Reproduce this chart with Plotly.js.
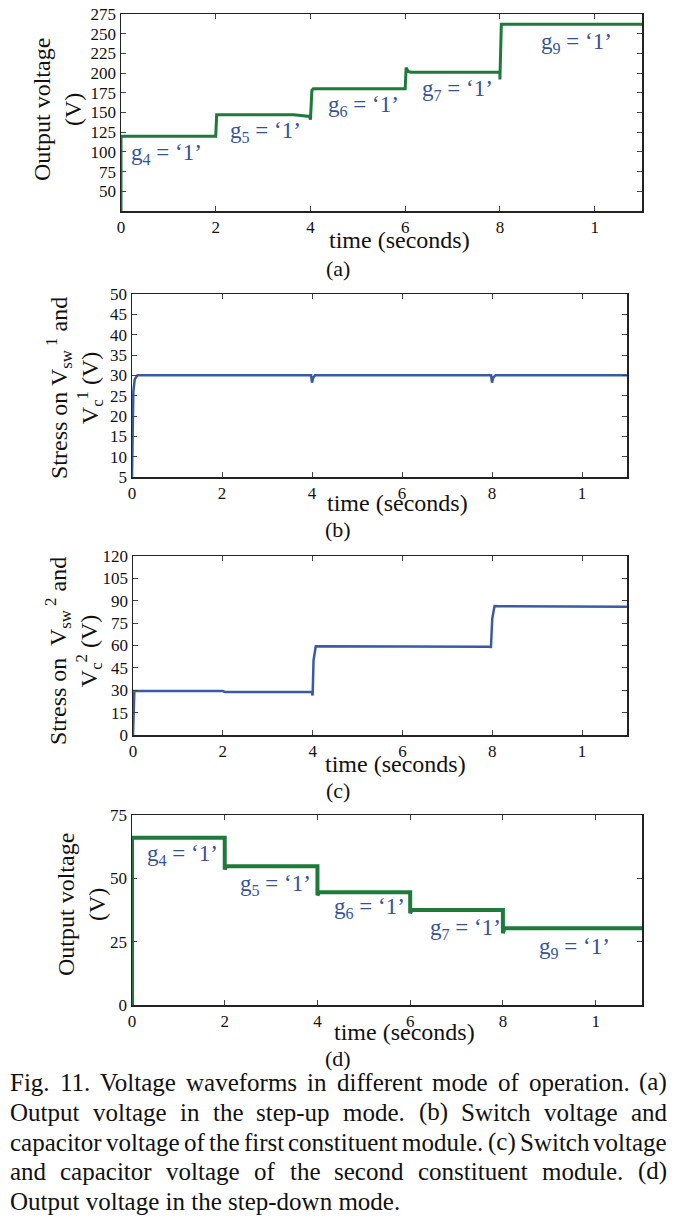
<!DOCTYPE html>
<html>
<head>
<meta charset="utf-8">
<script src="https://cdn.plot.ly/plotly-3.0.1.min.js"></script>
<style>
  html, body { margin: 0; padding: 0; background: #fff; }
  #chart { width: 685px; height: 1231px; }
</style>
</head>
<body>
<div id="chart"></div>
<script>
// ---------------- DATA ----------------
// (a) step-up mode output voltage
const aTime = [0, 0, 0.02, 2.0, 2.02, 3.65, 3.98, 4.0, 4.03, 4.06, 6.0, 6.02, 6.06, 6.12, 8.0, 8.0, 8.03, 11];
const aVolt = [0, 118, 120, 120, 147, 147, 145, 141, 178, 180, 180, 207, 202, 201, 201, 192, 262, 262];
// (b) stress on Vsw1 and Vc1
const bTime = [0, 0.03, 0.06, 0.12, 3.98, 4.0, 4.03, 4.07, 7.98, 8.0, 8.03, 8.08, 11];
const bVolt = [5, 26, 29, 30, 30, 28.2, 29.5, 30, 30, 28.2, 29.5, 30, 30];
// (c) stress on Vsw2 and Vc2
const cTime = [0, 0.03, 2.0, 2.05, 3.98, 4.0, 4.02, 4.07, 7.9, 7.97, 8.0, 8.05, 8.15, 11];
const cVolt = [0, 29.5, 29.5, 28.8, 28.8, 26.5, 50, 59.5, 59.2, 59, 78, 86.5, 86.3, 86];
// (d) step-down mode output voltage
const dTime = [0, 0, 2.0, 2.0, 2.03, 4.0, 4.0, 4.03, 6.0, 6.0, 6.03, 8.0, 8.0, 8.03, 11];
const dVolt = [0, 66, 66, 53.5, 54.8, 54.8, 43.3, 44.5, 44.5, 36.2, 37.5, 37.5, 28.3, 30.3, 30.3];

// annotation labels (switch states) and where they sit in data units
const aLabels = ["g<sub>4</sub> = ‘1’", "g<sub>5</sub> = ‘1’", "g<sub>6</sub> = ‘1’", "g<sub>7</sub> = ‘1’", "g<sub>9</sub> = ‘1’"];
const aLabelX = [0.97, 3.05, 5.13, 7.1, 9.62];
const aLabelY = [97, 125, 158, 179, 238];
const dLabels = ["g<sub>4</sub> = ‘1’", "g<sub>5</sub> = ‘1’", "g<sub>6</sub> = ‘1’", "g<sub>7</sub> = ‘1’", "g<sub>9</sub> = ‘1’"];
const dLabelX = [1.08, 3.09, 5.12, 7.19, 9.55];
const dLabelY = [59.2, 47.4, 38.3, 30, 22.5];

// ticks
const xTickVals = [0, 2, 4, 6, 8, 10];
const xTickText = ["0", "2", "4", "6", "8", "1"];
const aYTicks = [50, 75, 100, 125, 150, 175, 200, 225, 250, 275];
const bYTicks = [5, 10, 15, 20, 25, 30, 35, 40, 45, 50];
const cYTicks = [0, 15, 30, 45, 60, 75, 90, 105, 120];
const dYTicks = [0, 25, 50, 75];

// texts
const xTitle = "time (seconds)";
const yTitleA = "Output voltage<br>(V)";
const yTitleB = "Stress on V<sub>sw</sub><sup> 1</sup> and<br>V<sub>c</sub><sup>1</sup> (V)";
const yTitleC = "Stress on  V<sub>sw</sub><sup> 2</sup> and<br>V<sub>c</sub><sup>2</sup> (V)";
const yTitleD = "Output voltage<br>(V)";
const panelLabels = ["(a)", "(b)", "(c)", "(d)"];
const captionLines = [
  "Fig. 11. Voltage waveforms in different mode of operation. (a)",
  "Output voltage in the step-up mode. (b) Switch voltage and",
  "capacitor voltage of the first constituent module. (c) Switch voltage",
  "and capacitor voltage of the second constituent module. (d)",
  "Output voltage in the step-down mode."
];

// ---------------- LAYOUT ----------------
const W = 685, H = 1231;
const px = v => v / W;
const py = v => 1 - v / H;
const SERIF = "Liberation Serif, Times New Roman, serif";
const GREEN = "#1d7a3a";
const BLUE = "#3a5aa3";
const LABEL_BLUE = "#34529a";

const boxes = [
  {l: 121, r: 642, t: 14,  b: 211},
  {l: 132, r: 627, t: 294, b: 477},
  {l: 133, r: 627, t: 556, b: 735},
  {l: 132, r: 642, t: 815, b: 1005}
];

function xAxis(box, anchor) {
  return {
    domain: [px(box.l), px(box.r)], anchor: anchor, range: [0, 11],
    tickvals: xTickVals, ticktext: xTickText,
    showline: true, mirror: "ticks", linecolor: "#222", linewidth: 1.5,
    ticks: "inside", ticklen: 5, tickcolor: "#444", tickwidth: 1,
    showgrid: false, zeroline: false,
    tickfont: {family: SERIF, size: 17, color: "#111"}, fixedrange: true
  };
}
function yAxis(box, anchor, range, ticks) {
  return {
    domain: [py(box.b), py(box.t)], anchor: anchor, range: range,
    tickvals: ticks,
    showline: true, mirror: "ticks", linecolor: "#222", linewidth: 1.5,
    ticks: "inside", ticklen: 5, tickcolor: "#444", tickwidth: 1,
    showgrid: false, zeroline: false,
    tickfont: {family: SERIF, size: 17, color: "#111"}, fixedrange: true
  };
}

const traces = [
  {x: aTime, y: aVolt, xaxis: "x", yaxis: "y", mode: "lines", line: {color: GREEN, width: 3}, hoverinfo: "skip"},
  {x: bTime, y: bVolt, xaxis: "x2", yaxis: "y2", mode: "lines", line: {color: BLUE, width: 2.5}, hoverinfo: "skip"},
  {x: cTime, y: cVolt, xaxis: "x3", yaxis: "y3", mode: "lines", line: {color: BLUE, width: 2.5}, hoverinfo: "skip"},
  {x: dTime, y: dVolt, xaxis: "x4", yaxis: "y4", mode: "lines", line: {color: GREEN, width: 4}, hoverinfo: "skip"}
];

const annotations = [];
function paperText(text, x, y, size, opts) {
  annotations.push(Object.assign({
    text: text, xref: "paper", yref: "paper", x: px(x), y: py(y),
    xanchor: "center", yanchor: "middle", showarrow: false, borderpad: 0,
    font: {family: SERIF, size: size, color: "#111"}
  }, opts || {}));
}

// switch-state labels
aLabels.forEach((t, i) => annotations.push({
  text: t, xref: "x", yref: "y", x: aLabelX[i], y: aLabelY[i], showarrow: false,
  font: {family: SERIF, size: 23, color: LABEL_BLUE}
}));
dLabels.forEach((t, i) => annotations.push({
  text: t, xref: "x4", yref: "y4", x: dLabelX[i], y: dLabelY[i], showarrow: false,
  font: {family: SERIF, size: 23, color: LABEL_BLUE}
}));

// x titles
paperText(xTitle, 400, 240, 24);
paperText(xTitle, 397, 503, 24);
paperText(xTitle, 395, 764, 24);
paperText(xTitle, 404, 1032, 24);
// y titles
paperText(yTitleA, 57, 110, 24, {textangle: -90});
paperText(yTitleB, 74, 388, 24, {textangle: -90});
paperText(yTitleC, 73, 651, 24, {textangle: -90});
paperText(yTitleD, 81, 905, 24, {textangle: -90});
// panel labels
const labelY = [268, 530, 790, 1058];
panelLabels.forEach((t, i) => paperText(t, 338, labelY[i], 22));

// caption (justified lines)
const capFont = 25;
const capLeft = 9, capRight = 666;
const capY = [1082, 1112, 1142, 1171, 1201];
const cv = document.createElement("canvas").getContext("2d");
cv.font = capFont + "px 'Liberation Serif'";
captionLines.forEach((line, i) => {
  const justify = i < captionLines.length - 1;
  if (!justify) {
    paperText(line, capLeft, capY[i], capFont, {xanchor: "left"});
    return;
  }
  const words = line.split(" ");
  const widths = words.map(w => cv.measureText(w).width);
  const total = widths.reduce((s, v) => s + v, 0);
  const gap = (capRight - capLeft - total) / (words.length - 1);
  let pos = capLeft;
  words.forEach((w, k) => {
    paperText(w, pos, capY[i], capFont, {xanchor: "left"});
    pos += widths[k] + gap;
  });
});

const layout = {
  width: W, height: H,
  margin: {l: 0, r: 0, t: 0, b: 0},
  paper_bgcolor: "#fff", plot_bgcolor: "#fff",
  showlegend: false,
  font: {family: SERIF, color: "#111"},
  xaxis: xAxis(boxes[0], "y"),   yaxis: yAxis(boxes[0], "x", [25, 275], aYTicks),
  xaxis2: xAxis(boxes[1], "y2"), yaxis2: yAxis(boxes[1], "x2", [5, 50], bYTicks),
  xaxis3: xAxis(boxes[2], "y3"), yaxis3: yAxis(boxes[2], "x3", [0, 120], cYTicks),
  xaxis4: xAxis(boxes[3], "y4"), yaxis4: yAxis(boxes[3], "x4", [0, 75], dYTicks),
  annotations: annotations
};

Plotly.newPlot("chart", traces, layout, {displayModeBar: false, staticPlot: true});
</script>
</body>
</html>
